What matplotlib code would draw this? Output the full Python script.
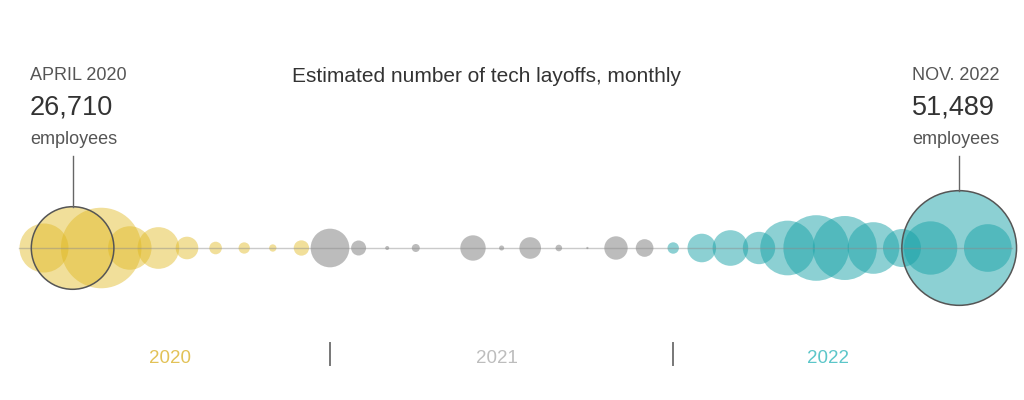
import numpy as np
import matplotlib
matplotlib.use('Agg')
import matplotlib.pyplot as plt

plt.rcParams['font.family'] = ['Liberation Sans', 'DejaVu Sans']

# ---- data: estimated tech layoffs per month ----
months_2020 = ['Mar', 'Apr', 'May', 'Jun', 'Jul', 'Aug', 'Sep', 'Oct', 'Nov', 'Dec']
layoffs_2020 = [9400, 26710, 25400, 7400, 6800, 2000, 620, 500, 210, 920]

months_2021 = ['Jan', 'Feb', 'Mar', 'Apr', 'May', 'Jun', 'Jul', 'Aug', 'Sep', 'Oct', 'Nov', 'Dec']
layoffs_2021 = [5850, 880, 63, 250, 0, 2520, 100, 1830, 170, 20, 2140, 1220]

months_2022 = ['Jan', 'Feb', 'Mar', 'Apr', 'May', 'Jun', 'Jul', 'Aug', 'Sep', 'Oct', 'Nov', 'Dec']
layoffs_2022 = [510, 3200, 4970, 4100, 11700, 16850, 16030, 10430, 5650, 11140, 51489, 8900]

year_labels = ['2020', '2021', '2022']

# ---- layout ----
W, H, DPI = 1024, 400, 100
K = 15.66            # employees per square pixel of bubble area
step, x0 = 28.6, 44  # pixels per month, pixel of first month

fig = plt.figure(figsize=(W / DPI, H / DPI), dpi=DPI)
fig.patch.set_facecolor('white')
ax = fig.add_axes([0, 0, 1, 1])
ax.set_xlim(-x0 / step, (W - x0) / step)
ax.set_ylim(-152, 248)   # y in pixels, 0 = baseline row
ax.axis('off')


def radius(v):
    return np.sqrt(np.asarray(v, dtype=float) / K)


def size(v):
    return (2 * radius(v) * 72 / DPI) ** 2


series = [
    (layoffs_2020, '#e0b820', 0.45),
    (layoffs_2021, '#7a7a7a', 0.5),
    (layoffs_2022, '#1aa3a8', 0.5),
]
all_vals = []
start = 0
for vals, col, a in series:
    idx = np.arange(start, start + len(vals))
    v = np.asarray(vals, dtype=float)
    m = v > 0
    ax.scatter(idx[m], np.zeros(m.sum()), s=size(v[m]), color=col, alpha=a,
               linewidths=0, zorder=2)
    all_vals.extend(vals)
    start += len(vals)

n = len(all_vals)
# baseline
ax.plot([0 - radius(all_vals[0]) / step, (n - 1) + radius(all_vals[-1]) / step],
        [0, 0], color='#8a8a8a', alpha=0.45, lw=1, zorder=3)

# highlighted bubbles
hi = [1, n - 2]
for i in hi:
    ax.scatter([i], [0], s=size(all_vals[i]), facecolor='none',
               edgecolor='#555555', linewidths=1.1, zorder=4)
    ax.plot([i, i], [92, radius(all_vals[i])], color='#666666', lw=1, zorder=4)


def ftext(x, row, s, **kw):
    fig.text(x / W, (H - row) / H, s, va='baseline', **kw)


ftext(30, 80, 'APRIL 2020', fontsize=13, color='#555555')
ftext(30, 115, f'{all_vals[1]:,}', fontsize=19.5, color='#333333')
ftext(30, 144, 'employees', fontsize=13, color='#555555')

ftext(912, 80, 'NOV. 2022', fontsize=13, color='#555555')
ftext(912, 115, f'{all_vals[n - 2]:,}', fontsize=19.5, color='#333333')
ftext(912, 144, 'employees', fontsize=13, color='#555555')

ftext(486, 82, 'Estimated number of tech layoffs, monthly', fontsize=15,
      color='#333333', ha='center')

# year labels and separators
year_colors = ['#e2c257', '#bdbdbd', '#5cc6c9']
label_px = [170, 497, 828]
for k, lab in enumerate(year_labels):
    ftext(label_px[k], 363, lab, fontsize=13.5, color=year_colors[k], ha='center')

bounds = [len(layoffs_2020), len(layoffs_2020) + len(layoffs_2021)]
for b in bounds:
    ax.plot([b, b], [-95, -117], color='#777777', lw=1.4)

fig.savefig('out.png', dpi=DPI, facecolor='white')
